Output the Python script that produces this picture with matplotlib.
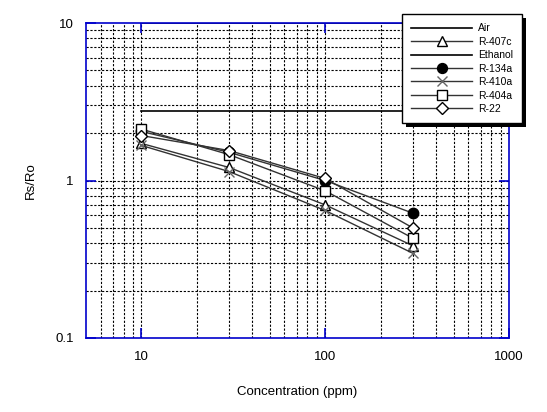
import matplotlib
matplotlib.use("Agg")
import matplotlib.pyplot as plt
from matplotlib.patches import Rectangle
from matplotlib.ticker import NullFormatter, FixedLocator

plt.rcParams['font.family'] = ['Liberation Sans', 'DejaVu Sans']

conc = [10, 30, 100, 300]
air_x = [10, 1000]
air = [2.78, 2.78]
ethanol = [10.0, 10.0]
r407c = [1.72, 1.21, 0.70, 0.385]
r134a = [2.05, 1.51, 1.00, 0.62]
r410a = [1.67, 1.14, 0.645, 0.345]
r404a = [2.12, 1.46, 0.86, 0.43]
r22 = [1.93, 1.55, 1.03, 0.50]

blue = '#0000cc'
lc = '#333333'

fig = plt.figure(figsize=(5.47, 4.12), dpi=100)
ax = fig.add_axes([86 / 547, 74 / 412, 423 / 547, 315 / 412])
ax.set_xscale('log')
ax.set_yscale('log')
ax.set_xlim(5, 1000)
ax.set_ylim(0.1, 10)

# dotted grid on every decade subdivision
xg = [6, 7, 8, 9, 10, 20, 30, 40, 50, 60, 70, 80, 90, 100,
      200, 300, 400, 500, 600, 700, 800, 900]
yg = [0.2, 0.3, 0.4, 0.5, 0.6, 0.7, 0.8, 0.9, 1,
      2, 3, 4, 5, 6, 7, 8, 9]
for v in xg:
    ax.axvline(v, color='black', lw=0.8, ls=(0, (2, 1.5)), zorder=1)
for v in yg:
    ax.axhline(v, color='black', lw=0.8, ls=(0, (2, 1.5)), zorder=1)

mk = dict(color=lc, lw=1, markersize=7.5, markeredgecolor='black', markeredgewidth=1)
ax.plot(air_x, air, color='black', lw=1.2, label='Air', zorder=3)
ax.plot(air_x, ethanol, color='black', lw=1.2, label='Ethanol', zorder=0.5)
ax.plot(conc, r407c, marker='^', markerfacecolor='white', label='R-407c', zorder=4, **mk)
ax.plot(conc, r134a, marker='o', markerfacecolor='black', label='R-134a', zorder=4, **mk)
mk_x = dict(mk)
mk_x['markeredgecolor'] = '#666666'
ax.plot(conc, r410a, marker='x', label='R-410a', zorder=4, **mk_x)
ax.plot(conc, r404a, marker='s', markerfacecolor='white', label='R-404a', zorder=4, **mk)
ax.plot(conc, r22, marker='D', markerfacecolor='white', markersize=6, color=lc, lw=1,
        markeredgecolor='black', markeredgewidth=1, label='R-22', zorder=5)

for s in ax.spines.values():
    s.set_color(blue)
    s.set_linewidth(1.2)
    s.set_zorder(6)

ax.xaxis.set_major_locator(FixedLocator([10, 100, 1000]))
ax.yaxis.set_major_locator(FixedLocator([0.1, 1, 10]))
ax.set_xticklabels(['10', '100', '1000'])
ax.set_yticklabels(['0.1', '1', '10'])
ax.xaxis.set_minor_formatter(NullFormatter())
ax.yaxis.set_minor_formatter(NullFormatter())
ax.tick_params(which='major', direction='in', length=7, width=1.2, color=blue,
               top=True, right=True, labelsize=9.5, pad=9)
ax.tick_params(which='minor', length=0)

ax.set_xlabel('Concentration (ppm)', fontsize=9.5, labelpad=17)
ax.set_ylabel('Rs/Ro', fontsize=9.5, labelpad=13)

order = ['Air', 'R-407c', 'Ethanol', 'R-134a', 'R-410a', 'R-404a', 'R-22']
h, l = ax.get_legend_handles_labels()
hd = dict(zip(l, h))
leg = ax.legend([hd[k] for k in order], order, loc='upper left',
                bbox_to_anchor=(402 / 547, 1 - 14 / 412), bbox_transform=fig.transFigure,
                fontsize=7.5, handlelength=5.8, labelspacing=0.33, handletextpad=0.6,
                borderpad=0.9, borderaxespad=0, fancybox=False, framealpha=1,
                markerscale=0.95)
leg.get_frame().set_edgecolor('black')
leg.get_frame().set_linewidth(1)
leg.set_zorder(10)

fig.canvas.draw()
bb = leg.get_window_extent()
shadow = Rectangle((bb.x0 + 4, bb.y0 - 4), bb.width, bb.height, transform=None,
                   facecolor='black', edgecolor='none', zorder=9)
fig.add_artist(shadow)
leg.remove()
fig.add_artist(leg)

fig.savefig('out.png', dpi=100)
